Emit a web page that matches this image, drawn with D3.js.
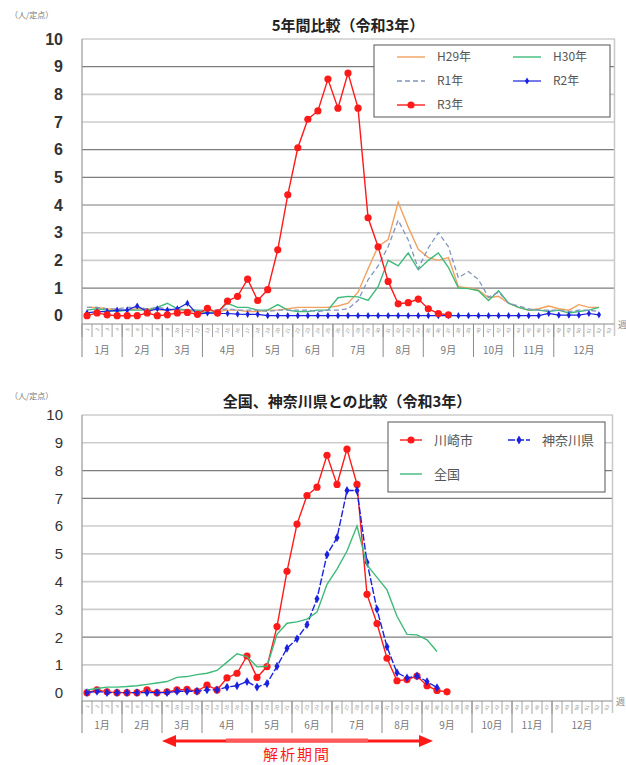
<!doctype html>
<html>
<head>
<meta charset="utf-8">
<script src="https://d3js.org/d3.v7.min.js"></script>
<style>
  body { margin: 0; background: #fff; }
  svg { display: block; }
  text { font-family: "Liberation Sans", Arial, sans-serif; }
  .jp { font-family: "Noto Sans CJK JP", sans-serif; }
  .title { font-size: 15px; font-weight: bold; fill: #222; }
  .unit { font-size: 8px; fill: #777; }
  .week { font-size: 5px; fill: #999; }
  .month { font-size: 10px; fill: #777; }
</style>
</head>
<body>
<svg id="chart" width="626" height="765"></svg>
<script>

// categories
var weeks = [1,2,3,4,5,6,7,8,9,10,11,12,13,14,15,16,17,18,19,20,21,22,23,24,25,26,
             27,28,29,30,31,32,33,34,35,36,37,38,39,40,41,42,43,44,45,46,47,48,49,50,51,52,53];
var months = ['1月','2月','3月','4月','5月','6月','7月','8月','9月','10月','11月','12月'];
var monthWeeks = [4,4,4,5,4,4,5,4,5,4,4,6];
var yTicks = [0,1,2,3,4,5,6,7,8,9,10];

// 5年間比較 (人/定点)
var h29 = [0.3,0.3,0.25,0.2,0.2,0.25,0.25,0.2,0.2,0.2,0.15,0.15,0.1,0.15,0.2,0.2,0.15,0.15,0.2,0.2,
           0.25,0.3,0.3,0.3,0.3,0.35,0.45,
           0.85,1.7,2.5,2.75,4.1,3.2,2.4,2.1,2.0,2.1,1.05,1.0,0.92,0.65,0.7,0.45,0.3,0.2,0.25,0.35,0.25,0.2,0.4,0.3,0.3];
var h30 = [0.2,0.25,0.2,0.15,0.2,0.2,0.2,0.3,0.45,0.25,0.2,0.2,0.1,0.15,0.45,0.3,0.3,0.2,0.2,0.4,
           0.2,0.15,0.15,0.2,0.2,0.65,0.7,
           0.68,0.55,1.05,2.0,1.8,2.27,1.66,2.0,2.27,1.75,1.0,0.98,0.9,0.55,0.9,0.45,0.3,0.2,0.2,0.15,0.2,0.1,0.15,0.2,0.3];
var r1 = [0.3,0.3,0.25,0.25,0.3,0.3,0.25,0.3,0.25,0.2,0.2,0.2,0.2,0.2,0.25,0.2,0.2,0.2,0.15,0.2,
          0.2,0.2,0.2,0.15,0.2,0.2,0.25,
          0.55,1.3,1.8,2.5,3.45,2.74,1.7,2.45,3.0,2.5,1.37,1.6,1.3,0.67,0.85,0.45,0.35,0.25,0.2,0.2,0.2,0.15,0.2,0.2,0.15];
var r2 = [0.1,0.15,0.15,0.2,0.2,0.35,0.15,0.25,0.2,0.25,0.45,0.05,0.1,0.08,0.08,0.06,0.05,0.05,0,0,
          0,0,0,0,0,0,0,0,0,0,0,0,0,0,0,0,0,0,0,0,0,0,0,0,0,0,0.08,0.02,0.02,0.02,0.08,0.03];
var r3 = [0,0.1,0.03,0,0,0,0.1,0,0.03,0.1,0.12,0.05,0.27,0.1,0.53,0.7,1.32,0.55,0.94,2.38,4.37,
          6.07,7.1,7.4,8.55,7.5,8.77,7.5,3.54,2.49,1.24,0.43,0.47,0.6,0.25,0.08,0.03];

// 全国、神奈川県との比較
var kawasaki = r3;
var kanagawa = [0,0.05,0,0,0,0,0,0,0,0.05,0.05,0.05,0.1,0.1,0.2,0.25,0.4,0.2,0.33,0.95,
                1.6,1.94,2.45,3.38,4.97,5.58,7.28,7.28,4.7,3.0,1.65,0.72,0.53,0.6,0.4,0.18];
var zenkoku = [0.1,0.15,0.2,0.2,0.22,0.25,0.3,0.35,0.4,0.55,0.58,0.65,0.7,0.8,1.1,1.4,1.3,0.93,0.95,2.1,
               2.5,2.55,2.65,2.9,3.9,4.45,5.1,6.0,4.6,4.15,3.7,2.75,2.1,2.08,1.9,1.48];

var svg = d3.select('#chart');

function marker(sel, type, color, r) {
  if (type === 'circle') {
    sel.append('circle').attr('r', r).attr('fill', color);
  } else if (type === 'diamond') {
    sel.append('path').attr('d', d3.symbol(d3.symbolDiamond, r * r * 2.2)()).attr('fill', color);
  }
}

function drawChart(opt) {
  var g = svg.append('g');
  var x = d3.scaleBand().domain(weeks).range([opt.left, opt.right]);
  var y = d3.scaleLinear().domain([-0.3, 10]).range([opt.bottom, opt.top]);
  var bw = x.bandwidth();
  var cx = function (i) { return x(weeks[i]) + bw / 2; };

  // grid
  g.selectAll('line.grid').data(yTicks.filter(function (d) { return d > 0; }))
    .enter().append('line')
    .attr('x1', opt.left).attr('x2', opt.right + 1)
    .attr('y1', function (d) { return y(d); }).attr('y2', function (d) { return y(d); })
    .attr('stroke', function (d) { return opt.darkGrid.indexOf(d) >= 0 ? '#7d7d7d' : '#cdcdcd'; })
    .attr('stroke-width', function (d) { return opt.darkGrid.indexOf(d) >= 0 ? 1.2 : 1.6; });

  // frame
  g.append('line').attr('x1', opt.right + 0.5).attr('x2', opt.right + 0.5)
    .attr('y1', y(10)).attr('y2', opt.bottom + 12).attr('stroke', '#c8c8c8').attr('stroke-width', 1.5);
  g.append('line').attr('x1', opt.left).attr('x2', opt.left)
    .attr('y1', y(10)).attr('y2', opt.catBottom).attr('stroke', '#a0a0a0').attr('stroke-width', 1.3);
  g.append('line').attr('x1', opt.left).attr('x2', opt.right)
    .attr('y1', opt.bottom).attr('y2', opt.bottom).attr('stroke', '#8a8a8a').attr('stroke-width', 1);

  // y labels
  g.selectAll('text.ytick').data(yTicks).enter().append('text')
    .attr('x', opt.left - 19).attr('y', function (d) { return y(d); }).attr('dy', '0.36em')
    .attr('text-anchor', 'end')
    .style('font-family', opt.tickFont).style('font-size', opt.tickSize + 'px')
    .style('font-weight', opt.tickWeight).attr('fill', '#333')
    .text(function (d) { return d; });

  // week ticks + labels
  g.selectAll('line.wk').data(weeks).enter().append('line')
    .attr('x1', function (d) { return x(d); }).attr('x2', function (d) { return x(d); })
    .attr('y1', opt.bottom).attr('y2', opt.bottom + 13)
    .attr('stroke', '#8a8a8a').attr('stroke-width', 0.8);
  g.selectAll('text.week').data(weeks).enter().append('text')
    .attr('class', 'week')
    .attr('transform', function (d) { return 'translate(' + (x(d) + bw / 2 + 1) + ',' + (opt.bottom + 4) + ') rotate(-70)'; })
    .attr('text-anchor', 'end').attr('dy', '0.3em')
    .text(function (d) { return d; });
  g.append('text').attr('class', 'jp').attr('x', opt.right + 4).attr('y', opt.bottom + 4)
    .style('font-size', '9px').attr('fill', '#888').text('週');

  // months
  var start = 0;
  months.forEach(function (m, i) {
    var x0 = x(weeks[start]);
    var end = start + monthWeeks[i];
    var x1 = end < weeks.length ? x(weeks[end]) : opt.right;
    if (i > 0) {
      g.append('line').attr('x1', x0).attr('x2', x0)
        .attr('y1', opt.bottom).attr('y2', opt.catBottom)
        .attr('stroke', '#8a8a8a').attr('stroke-width', 1);
    }
    g.append('text').attr('class', 'month jp')
      .attr('x', (x0 + x1) / 2).attr('y', opt.monthY).attr('text-anchor', 'middle').text(m);
    start = end;
  });

  // series
  opt.series.forEach(function (s) {
    var line = d3.line().x(function (d, i) { return cx(i); }).y(function (d) { return y(d); });
    g.append('path').attr('d', line(s.values))
      .attr('fill', 'none').attr('stroke', s.color).attr('stroke-width', s.width || 1.4)
      .attr('stroke-dasharray', s.dash || null);
    if (s.marker) {
      s.values.forEach(function (v, i) {
        var m = g.append('g').attr('transform', 'translate(' + cx(i) + ',' + y(v) + ')');
        marker(m, s.marker, s.color, s.r);
      });
    }
  });

  // legend
  var lg = g.append('g');
  lg.append('rect').attr('x', opt.legend.x).attr('y', opt.legend.y)
    .attr('width', opt.legend.w).attr('height', opt.legend.h)
    .attr('fill', '#fff').attr('stroke', '#555').attr('stroke-width', 1);
  opt.series.forEach(function (s, i) {
    var col = i % 2, row = Math.floor(i / 2);
    var lx = opt.legend.x + opt.legend.pad + col * opt.legend.colW;
    var ly = opt.legend.y + opt.legend.row0 + row * opt.legend.rowH;
    lg.append('line').attr('x1', lx).attr('x2', lx + opt.legend.lineW)
      .attr('y1', ly).attr('y2', ly).attr('stroke', s.color).attr('stroke-width', s.width || 1.4)
      .attr('stroke-dasharray', s.dash || null);
    if (s.marker) {
      var m = lg.append('g').attr('transform', 'translate(' + (lx + opt.legend.lineW / 2) + ',' + ly + ')');
      marker(m, s.marker, s.color, s.r);
    }
    lg.append('text').attr('class', 'jp').attr('x', lx + opt.legend.lineW + 12).attr('y', ly)
      .attr('dy', '0.35em').style('font-size', opt.legend.font + 'px').attr('fill', '#555').text(s.name);
  });

  // title + unit
  g.append('text').attr('class', 'title jp').attr('x', (opt.left + opt.right) / 2).attr('y', opt.titleY)
    .attr('text-anchor', 'middle').text(opt.title);
  g.append('text').attr('class', 'unit jp').attr('x', 10).attr('y', opt.unitY).text('（人/定点）');
}

drawChart({
  left: 82, right: 614, top: 39, bottom: 324, catBottom: 357, monthY: 354,
  titleY: 31, unitY: 18, title: '5年間比較（令和3年）',
  darkGrid: [9, 6, 5, 4, 1],
  tickFont: '"Liberation Sans Narrow", "Liberation Sans", Arial, sans-serif', tickSize: 16, tickWeight: 'bold',
  legend: { x: 374, y: 45, w: 236, h: 72, pad: 23, colW: 116, lineW: 28, row0: 12, rowH: 24, font: 12 },
  series: [
    { name: 'H29年', values: h29, color: '#f2a15e', width: 1.4 },
    { name: 'H30年', values: h30, color: '#3dba7a', width: 1.4 },
    { name: 'R1年', values: r1, color: '#8395bd', width: 1.3, dash: '5,3' },
    { name: 'R2年', values: r2, color: '#1a22e0', width: 1.2, marker: 'diamond', r: 2.6 },
    { name: 'R3年', values: r3, color: '#ff1a1a', width: 1.4, marker: 'circle', r: 3.6 }
  ]
});

drawChart({
  left: 82, right: 612, top: 415, bottom: 701, catBottom: 733, monthY: 729,
  titleY: 407, unitY: 399, title: '全国、神奈川県との比較（令和3年）',
  darkGrid: [8, 7, 2],
  tickFont: '"Liberation Sans", Arial, sans-serif', tickSize: 15, tickWeight: 'normal',
  legend: { x: 388, y: 422, w: 217, h: 70, pad: 12, colW: 108, lineW: 22, row0: 18, rowH: 34, font: 13 },
  series: [
    { name: '川崎市', values: kawasaki, color: '#ff1a1a', width: 1.4, marker: 'circle', r: 3.6 },
    { name: '神奈川県', values: kanagawa, color: '#1a22e0', width: 1.4, dash: '7,2', marker: 'diamond', r: 3.2 },
    { name: '全国', values: zenkoku, color: '#3dba7a', width: 1.4 }
  ]
});

// 解析期間 arrow
var ag = svg.append('g');
ag.append('line').attr('x1', 172).attr('x2', 424).attr('y1', 741).attr('y2', 741)
  .attr('stroke', '#ff1a1a').attr('stroke-width', 3);
ag.append('line').attr('x1', 226).attr('x2', 368).attr('y1', 740.5).attr('y2', 740.5)
  .attr('stroke', '#ff5a5a').attr('stroke-width', 4);
ag.append('path').attr('d', 'M162,741 L176,735 L176,747 Z').attr('fill', '#ff1a1a');
ag.append('path').attr('d', 'M433,741 L419,735 L419,747 Z').attr('fill', '#ff1a1a');
ag.append('text').attr('class', 'jp').attr('x', 297).attr('y', 760).attr('text-anchor', 'middle')
  .style('font-size', '15px').style('letter-spacing', '2px').attr('fill', '#ff1a1a').text('解析期間');

</script>
</body>
</html>
